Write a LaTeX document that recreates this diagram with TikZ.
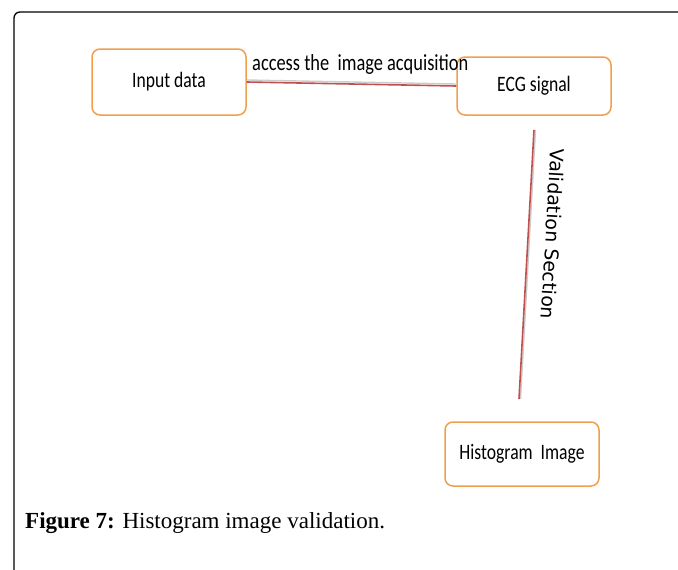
\documentclass[tikz,border=0pt]{standalone}
\usepackage{fontspec}
\setmainfont{Liberation Serif}
\newfontfamily\boxfont[FakeStretch=0.8]{Carlito}
\newfontfamily\valfont{DejaVu Sans}
\definecolor{boxorange}{HTML}{F0A04B}
\definecolor{linered}{HTML}{C0504D}
\begin{document}
\begin{tikzpicture}[x=1pt,y=-1pt,
  blockbox/.style={draw=boxorange, line width=1.5pt, rounded corners=8pt, fill=white, inner sep=0pt, font=\boxfont\fontsize{22}{26}\selectfont},
  redline/.style={draw=linered, line width=1.6pt},
  shadowline/.style={draw=gray!40, line width=1.4pt}]
\useasboundingbox (0,0) rectangle (678,570);
% frame
\draw[line width=1.3pt, rounded corners=6pt] (678,12) -- (14,12) -- (14,570);
% boxes
\node[blockbox, minimum width=154pt, minimum height=66pt] (in) at (169,82) {Input data};
\node[blockbox, minimum width=154pt, minimum height=58pt] (ecg) at (534,86) {ECG signal};
\node[blockbox, minimum width=154pt, minimum height=64pt] (hist) at (522,454) {Histogram\ \ Image};
% connector input -> ecg
\draw[shadowline] ([yshift=2pt]in.east) -- ([yshift=2pt]ecg.west);
\draw[redline] (in.east) -- (ecg.west);
\node[font=\boxfont\fontsize{23}{27}\selectfont, anchor=base west, inner sep=0pt] (acc) at (252,70) {access the\ \ image acquisition};
% vertical connector
\coordinate (v1) at (534,130);
\coordinate (v2) at (519,399);
\draw[shadowline] ([xshift=1.5pt]v1) -- ([xshift=1.5pt]v2);
\draw[redline] (v1) -- (v2);
\node[font=\valfont\fontsize{19}{22}\selectfont, rotate=-93.2, inner sep=0pt] (val) at (553,234) {Validation Section};
% caption
\node[anchor=base west, inner sep=0pt, font=\fontsize{23}{26}\selectfont] (cap) at (25,528) {\textbf{Figure 7:} Histogram image validation.};
\end{tikzpicture}
\end{document}
